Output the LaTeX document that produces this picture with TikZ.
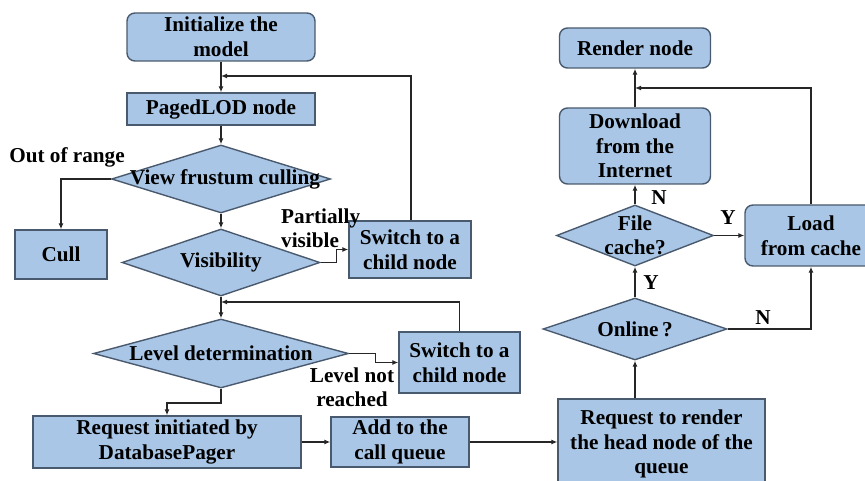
\documentclass[tikz,border=0pt]{standalone}
\usepackage{fontspec}
\setmainfont{Liberation Serif}
\usetikzlibrary{shapes.geometric,arrows.meta,calc}
\definecolor{boxfill}{HTML}{A9C6E6}
\definecolor{boxline}{HTML}{4A5A6E}
\begin{document}
\begin{tikzpicture}[x=1pt,y=-1pt,
  every node/.style={font=\bfseries\fontsize{21.2}{24.5}\selectfont, align=center, inner sep=0pt},
  box/.style={draw=boxline, fill=boxfill, line width=1.4pt},
  rbox/.style={box, rounded corners=8pt},
  dia/.style={box, diamond},
  arr/.style={-{Latex[length=6pt,width=5pt]}, line width=1.2pt, draw=black!85}]
\useasboundingbox (0,0) rectangle (865,481);
\clip (0,0) rectangle (865,481);
% left column
\node[rbox, minimum width=188pt, minimum height=48pt] (init) at (221,37) {Initialize the\\model};
\node[box, minimum width=188pt, minimum height=32pt] (paged) at (221,109) {PagedLOD node};
\node[dia, minimum width=219pt, minimum height=68pt, label={[xshift=4pt]center:View frustum culling}] (vfc) at (221,179) {};
\node[box, minimum width=92pt, minimum height=49pt] (cull) at (61,254.5) {Cull};
\node[dia, minimum width=198pt, minimum height=67pt, label=center:Visibility] (vis) at (221,262.5) {};
\node[box, minimum width=122pt, minimum height=57pt] (sw1) at (410,249.5) {Switch to a\\child node};
\node[dia, minimum width=255pt, minimum height=69pt, label=center:Level determination] (ld) at (221,353.5) {};
\node[box, minimum width=121pt, minimum height=61pt] (sw2) at (459.5,362.5) {Switch to a\\child node};
\node[box, minimum width=268pt, minimum height=52pt] (req) at (167,442) {Request initiated by\\DatabasePager};
\node[box, minimum width=138pt, minimum height=50pt] (add) at (400,442) {Add to the\\call queue};
% right column
\node[box, minimum width=207pt, minimum height=90pt] (rr) at (661.5,444) {Request to render\\the head node of the\\queue};
\node[dia, minimum width=184pt, minimum height=62pt, label=center:Online\,?] (on) at (635,329) {};
\node[dia, minimum width=157pt, minimum height=61pt, label=center:{File\\cache?}] (fc) at (635,235.5) {};
\node[rbox, minimum width=151pt, minimum height=76pt] (dl) at (635,146) {Download\\from the\\Internet};
\node[rbox, minimum width=151pt, minimum height=40pt] (render) at (635,48) {Render node};
\node[rbox, minimum width=132pt, minimum height=61pt] (load) at (811,235.5) {Load\\from cache};
% labels
\node[anchor=west, align=left] (pv) at (281,228) {Partially\\visible};
\node (oor) at (67,157) {Out of range};
\node (lnr) at (352,387) {Level not\\reached};
\node (n1) at (659,198) {N};
\node (y1) at (728,218) {Y};
\node (y2) at (651,283) {Y};
\node (n2) at (763,318) {N};
% connectors
\coordinate (t1) at (411,76);
\coordinate (t2) at (460,302);
\coordinate (t3) at (167,403);
\coordinate (t4) at (811,88);
\draw[arr] (init.south) -- (paged.north);
\draw[arr] (sw1.north -| t1) -- (t1) -- (init.south |- t1);
\draw[arr] (paged.south) -- (vfc.north);
\draw[arr] (vfc.west) -| (cull.north);
\draw[arr] (vfc.south) -- (vis.north);
\draw[arr] (vis.east) -- ++(16,0) |- (sw1.west);
\draw[arr] (vis.south) -- (ld.north);
\draw[arr] (sw2.north) |- (vis.south |- t2);
\draw[arr] (ld.east) -- ++(26,0) |- (sw2.west);
\draw[arr] (ld.south) |- (t3) -- (req.north);
\draw[arr] (req.east) -- (add.west);
\draw[arr] (add.east) -- (add.east -| rr.west);
\draw[arr] (rr.north -| on.south) -- (on.south);
\draw[arr] (on.north) -- (fc.south);
\draw[arr] (on.east) -| (load.south);
\draw[arr] (fc.east) -- (fc.east -| load.west);
\draw[arr] (fc.north) -- (dl.south);
\draw[arr] (dl.north) -- (render.south);
\draw[arr] (load.north) |- (dl.north |- t4);
\end{tikzpicture}
\end{document}
